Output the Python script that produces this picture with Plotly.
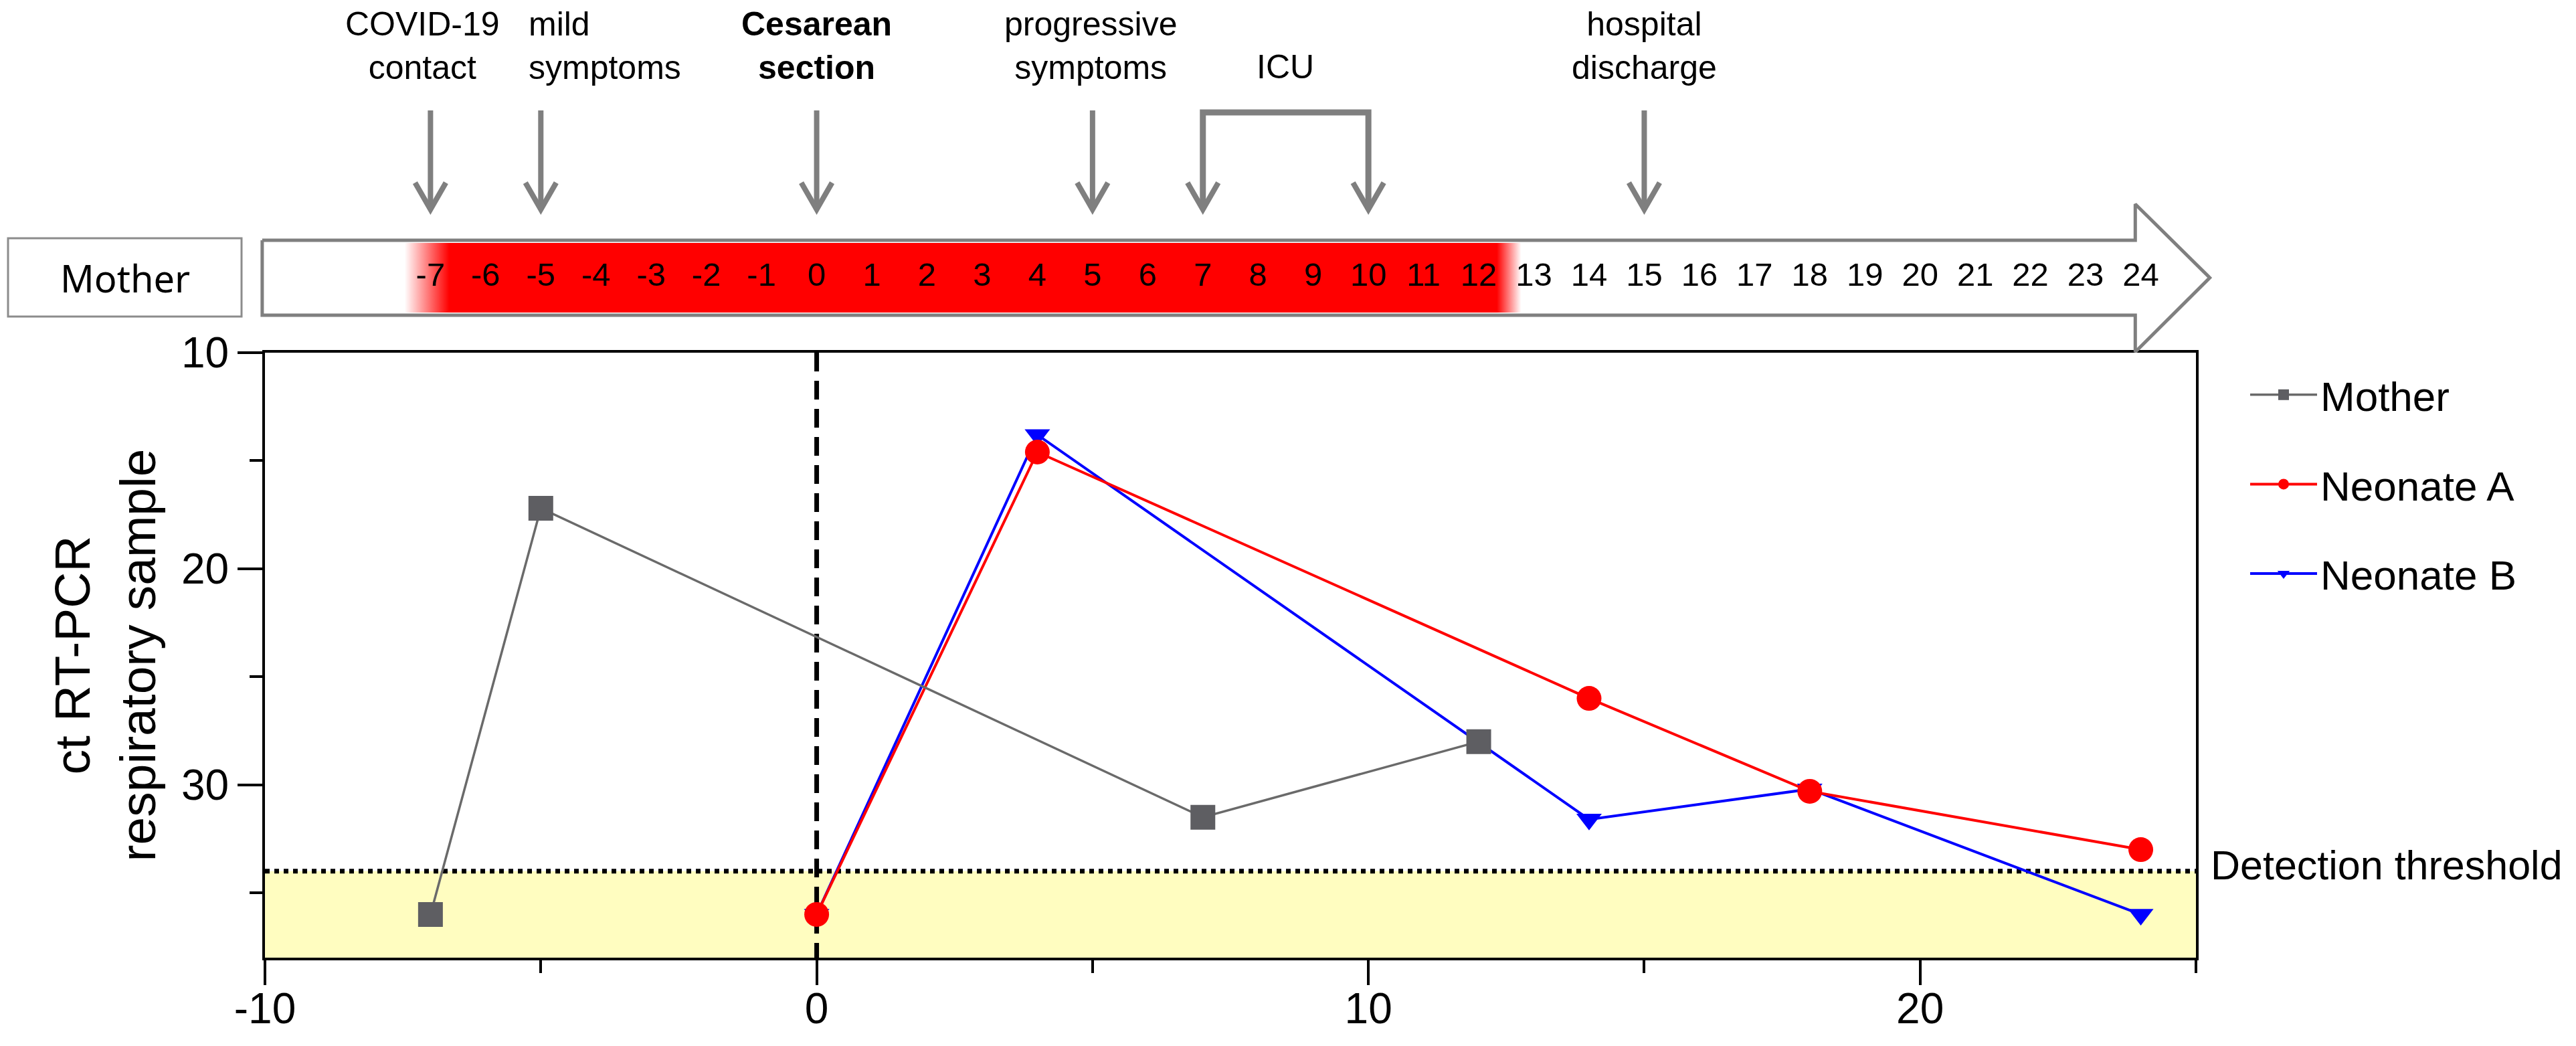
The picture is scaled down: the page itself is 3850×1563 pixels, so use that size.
import plotly.graph_objects as go

# %%
# Ct values (day 0 = cesarean section)
mother_days = [-7, -5, 7, 12]
mother_ct = [36, 17.2, 31.5, 28]

neonate_a_days = [0, 4, 14, 18, 24]
neonate_a_ct = [36, 14.6, 26, 30.3, 33]

neonate_b_days = [0, 4, 14, 18, 24]
neonate_b_ct = [36, 13.8, 31.6, 30.2, 36]

detection_threshold = 34

# timeline of the mother
timeline_days = list(range(-7, 25))
infectious_period = [-7.47, 12.77]  # red band, faded at both ends
infectious_fade = [0.81, 0.44]      # width of the fade (days) left / right

event_days = [-7, -5, 0, 5, 15]
event_label_x = [-7.15, -5.25, 0, 4.96, 15]
event_labels = [
    "COVID-19<br>contact",
    "mild<br>symptoms",
    "<b>Cesarean<br>section</b>",
    "progressive<br>symptoms",
    "hospital<br>discharge",
]
icu_days = [7, 10]

x_tickvals = [-10, 0, 10, 20]
y_tickvals = [10, 20, 30]

# %%
# page geometry in pixels
W, H = 3850, 1563
PLOT_L, PLOT_R, PLOT_T, PLOT_B = 396, 3282, 527, 1431
X_RANGE = [-10, 25]
Y_RANGE = [38, 10]
px_per_day = (PLOT_R - PLOT_L) / (X_RANGE[1] - X_RANGE[0])
# the timeline strip has its own x axis over the whole width, same scale as the plot
x2_range = [X_RANGE[0] - PLOT_L / px_per_day, X_RANGE[1] + (W - PLOT_R) / px_per_day]

# timeline vertical positions (y2 runs in pixels from the top of the page)
BAR_TOP, BAR_BOT, BAR_MID = 359, 471, 415
HEAD_TOP, HEAD_BOT = 305, 526
ARROW_L, HEAD_X, TIP_X = -10.05, 23.9, 25.25
STEM_TOP, STEM_TIP = 165, 313

GRAY = "#7f7f7f"
FONT = "Liberation Sans, Arial, sans-serif"

fig = go.Figure()

# %%
# data traces (drawn B, A, Mother; legend order set by legendrank)
fig.add_trace(
    go.Scatter(
        x=neonate_b_days,
        y=neonate_b_ct,
        mode="lines+markers",
        name="Neonate B",
        line=dict(color="#0000ff", width=4),
        marker=dict(symbol="triangle-down", size=33, color="#0000ff"),
        legendrank=3,
        legendgroup="b",
    )
)
fig.add_trace(
    go.Scatter(
        x=neonate_a_days,
        y=neonate_a_ct,
        mode="lines+markers",
        name="Neonate A",
        line=dict(color="#ff0000", width=4),
        marker=dict(symbol="circle", size=37, color="#ff0000"),
        legendrank=2,
        legendgroup="a",
    )
)
fig.add_trace(
    go.Scatter(
        x=mother_days,
        y=mother_ct,
        mode="lines+markers",
        name="Mother",
        line=dict(color="#6a6a6a", width=3.5),
        marker=dict(symbol="square", size=37, color="#5e5e62"),
        legendrank=1,
        legendgroup="m",
    )
)

# %%
# timeline arrow
fig.add_trace(
    go.Scatter(
        x=[ARROW_L, HEAD_X, HEAD_X, TIP_X, HEAD_X, HEAD_X, ARROW_L, ARROW_L],
        y=[BAR_TOP, BAR_TOP, HEAD_TOP, BAR_MID, HEAD_BOT, BAR_BOT, BAR_BOT, BAR_TOP],
        xaxis="x2",
        yaxis="y2",
        mode="lines",
        fill="toself",
        fillcolor="white",
        line=dict(color=GRAY, width=5),
        showlegend=False,
        hoverinfo="skip",
    )
)
span = infectious_period[1] - infectious_period[0]
fig.add_trace(
    go.Scatter(
        x=[infectious_period[0], infectious_period[1], infectious_period[1], infectious_period[0], infectious_period[0]],
        y=[BAR_TOP + 4, BAR_TOP + 4, BAR_BOT - 4, BAR_BOT - 4, BAR_TOP + 4],
        xaxis="x2",
        yaxis="y2",
        mode="none",
        fill="toself",
        fillgradient=dict(
            type="horizontal",
            colorscale=[
                [0, "rgba(255,0,0,0)"],
                [infectious_fade[0] / span, "rgb(255,0,0)"],
                [1 - infectious_fade[1] / span, "rgb(255,0,0)"],
                [1, "rgba(255,0,0,0)"],
            ],
        ),
        showlegend=False,
        hoverinfo="skip",
    )
)
fig.add_trace(
    go.Scatter(
        x=timeline_days,
        y=[BAR_MID] * len(timeline_days),
        xaxis="x2",
        yaxis="y2",
        mode="text",
        text=[str(d) for d in timeline_days],
        textposition="middle center",
        textfont=dict(family="Liberation Sans Narrow, Arial Narrow, Liberation Sans", size=49, color="black"),
        cliponaxis=False,
        showlegend=False,
        hoverinfo="skip",
    )
)

# %%
shapes = []
# non detectable zone + threshold + cesarean line
shapes.append(dict(type="rect", xref="x", yref="y", x0=X_RANGE[0], x1=X_RANGE[1],
                   y0=detection_threshold, y1=Y_RANGE[0], fillcolor="#fffdc0",
                   line=dict(width=0), layer="below"))
shapes.append(dict(type="line", xref="x", yref="y", x0=X_RANGE[0], x1=X_RANGE[1],
                   y0=detection_threshold, y1=detection_threshold,
                   line=dict(color="black", width=7, dash="7px,7px"), layer="below"))
shapes.append(dict(type="line", xref="x", yref="y", x0=0, x1=0, y0=Y_RANGE[1], y1=Y_RANGE[0],
                   line=dict(color="black", width=7, dash="28px,14px"), layer="below"))

# Mother box
shapes.append(dict(type="rect", xref="paper", yref="y2", x0=12 / W, x1=361 / W, y0=356, y1=473,
                   fillcolor="white", line=dict(color="#8c8c8c", width=3)))

# event arrows
chevron = "M-23,40 L0,0 L23,40"
for d in event_days:
    shapes.append(dict(type="line", xref="x2", yref="y2", x0=d, x1=d, y0=STEM_TOP, y1=STEM_TIP,
                       line=dict(color=GRAY, width=8)))
for d in event_days + icu_days:
    shapes.append(dict(type="path", xref="x2", yref="y2", xsizemode="pixel", ysizemode="pixel",
                       xanchor=d, yanchor=STEM_TIP, path=chevron, line=dict(color=GRAY, width=8)))
# ICU bracket
shapes.append(dict(type="path", xref="x2", yref="y2",
                   path=f"M{icu_days[0]},{STEM_TIP} L{icu_days[0]},168 L{icu_days[1]},168 L{icu_days[1]},{STEM_TIP}",
                   line=dict(color=GRAY, width=9)))

# %%
annotations = []
for x, label in zip(event_label_x, event_labels):
    left = label.startswith("mild")
    annotations.append(dict(x=x, y=68, xref="x2", yref="y2", text=label, showarrow=False,
                            xanchor="left" if left else "center", align="left" if left else "center",
                            font=dict(size=50, color="black")))
annotations.append(dict(x=sum(icu_days) / 2, y=100, xref="x2", yref="y2", text="ICU",
                        showarrow=False, font=dict(size=50, color="black")))
annotations.append(dict(x=(12 + 361) / 2 / W, y=BAR_MID, xref="paper", yref="y2", text="Mother",
                        xanchor="center", yanchor="middle", showarrow=False,
                        font=dict(family="Noto Sans", size=56, color="black")))
annotations.append(dict(x=X_RANGE[1], y=detection_threshold, xref="x", yref="y", xanchor="left",
                        xshift=20, yshift=9, text="Detection threshold", showarrow=False,
                        font=dict(size=61, color="black")))

# %%
axis_common = dict(
    automargin=False,
    showline=True,
    linecolor="black",
    linewidth=4,
    mirror=True,
    showgrid=False,
    zeroline=False,
    ticks="outside",
    ticklen=37,
    tickwidth=4,
    tickcolor="black",
    tickmode="array",
    tickfont=dict(size=64, color="black"),
    minor=dict(dtick=5, tick0=0, ticks="outside", ticklen=19, tickwidth=4, tickcolor="black", showgrid=False),
)

fig.update_layout(
    width=W,
    height=H,
    margin=dict(l=0, r=0, t=0, b=0),
    paper_bgcolor="white",
    plot_bgcolor="rgba(0,0,0,0)",
    font=dict(family=FONT, color="black"),
    xaxis=dict(domain=[PLOT_L / W, PLOT_R / W], range=X_RANGE, anchor="y",
               tickvals=x_tickvals, ticktext=[str(v) for v in x_tickvals],
               ticklabelstandoff=-20, **axis_common),
    yaxis=dict(
        domain=[1 - PLOT_B / H, 1 - PLOT_T / H],
        range=Y_RANGE,
        anchor="x",
        tickvals=y_tickvals,
        ticktext=[str(v) for v in y_tickvals],
        title=dict(text="ct RT-PCR<br>respiratory sample", font=dict(size=75), standoff=15),
        **axis_common,
    ),
    xaxis2=dict(domain=[0, 1], range=x2_range, anchor="y2", visible=False, fixedrange=True, automargin=False),
    yaxis2=dict(domain=[1 - PLOT_T / H, 1], range=[PLOT_T, 0], anchor="x2", visible=False, fixedrange=True,
                automargin=False),
    shapes=shapes,
    annotations=annotations,
    showlegend=True,
    legend=dict(
        x=3358 / W,
        y=1 - 543 / H,
        xanchor="left",
        yanchor="top",
        font=dict(size=62, color="black"),
        itemwidth=100,
        traceorder="grouped",
        tracegroupgap=50,
        bgcolor="rgba(0,0,0,0)",
    ),
)

# drop the default page margin so the figure sits at the window's corner
fig.write_html(
    "out.html",
    config={"displayModeBar": False},
    post_script="document.body.style.margin = '0px';",
)
